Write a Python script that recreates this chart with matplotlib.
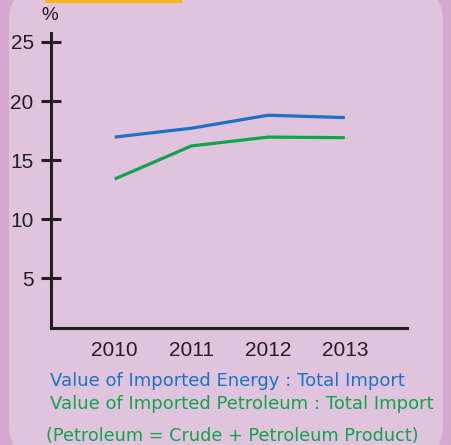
import numpy as np
import matplotlib.pyplot as plt
from matplotlib.patches import FancyBboxPatch, Rectangle


years = [2010, 2011, 2012, 2013]
energy_share = [16.95, 17.7, 18.8, 18.6]
petroleum_share = [13.4, 16.2, 16.95, 16.9]
y_ticks = [5, 10, 15, 20, 25]

BLUE = "#1a73c4"
GREEN = "#10a34c"
DARK = "#231f20"
OUTER = "#d5a8cf"
INNER = "#e0c3dc"

W, H = 451, 445

plt.rcParams["font.family"] = ["Liberation Sans", "DejaVu Sans"]

fig = plt.figure(figsize=(W / 100, H / 100), dpi=100)
fig.patch.set_facecolor(OUTER)

# background layer in pixel units, for the rounded panel
bg = fig.add_axes([0, 0, 1, 1], zorder=-1)
bg.set_xlim(0, W)
bg.set_ylim(H, 0)
bg.axis("off")
bg.add_patch(FancyBboxPatch((9, -10), 443 - 9, 466,
                            boxstyle="round,pad=0,rounding_size=30",
                            facecolor=INNER, edgecolor="none"))
bg.add_patch(Rectangle((45, -1), 182 - 45, 3.5, facecolor="#f7b417",
                       edgecolor="none"))

ax = fig.add_axes([51 / W, (H - 328) / H, (407 - 51) / W, (328 - 33) / H],
                  zorder=2)
ax.set_facecolor("none")

ax.plot(years, energy_share, color=BLUE, lw=2.3, solid_capstyle="butt")
ax.plot(years, petroleum_share, color=GREEN, lw=2.3, solid_capstyle="butt")

ax.set_xlim(2009.17, 2013.81)
ax.set_ylim(0.79, 25.76)

ax.set_yticks(y_ticks)
ax.set_xticks(years)
ax.tick_params(axis="y", direction="inout", length=15, width=2.2,
               color=DARK, labelcolor=DARK, labelsize=15, pad=5)
ax.tick_params(axis="x", length=0, labelcolor=DARK, labelsize=15, pad=9)

for side in ["top", "right"]:
    ax.spines[side].set_visible(False)
for side in ["left", "bottom"]:
    ax.spines[side].set_linewidth(2.2)
    ax.spines[side].set_color(DARK)

fig.text(41 / W, 1 - 15 / H, "%", fontsize=13.5, color=DARK, va="center")

legend_font = ["DejaVu Sans"]
fig.text(50 / W, 1 - 381 / H, "Value of Imported Energy : Total Import",
         fontsize=12.95, color=BLUE, va="center", family=legend_font)
fig.text(50 / W, 1 - 404 / H, "Value of Imported Petroleum : Total Import",
         fontsize=12.95, color=GREEN, va="center", family=legend_font)
fig.text(46 / W, 1 - 436 / H, "(Petroleum = Crude + Petroleum Product)",
         fontsize=12.7, color=GREEN, va="center", family=legend_font)

fig.savefig("out.png", dpi=100, facecolor=fig.get_facecolor())
